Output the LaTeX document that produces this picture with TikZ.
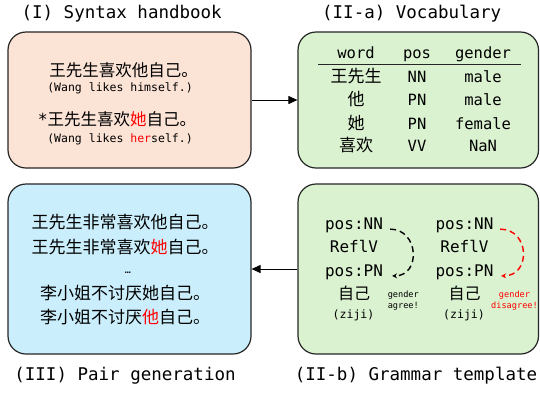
\documentclass[tikz,border=0pt]{standalone}
\usepackage{fontspec}
\setmainfont{DejaVu Sans Mono}
\newfontfamily\monof{DejaVu Sans Mono}
\newfontfamily\cjkf{Noto Sans CJK SC}
\usetikzlibrary{arrows.meta}
\definecolor{peach}{HTML}{FBE3D6}
\definecolor{mint}{HTML}{DAF2D0}
\definecolor{sky}{HTML}{CAEEFB}
\definecolor{edge}{HTML}{262626}
\definecolor{hot}{HTML}{FF0000}
\newcommand{\fsz}[1]{\fontsize{#1}{#1}\selectfont}
\begin{document}
\begin{tikzpicture}[x=1pt,y=-1pt,
  panel/.style={draw=edge, line width=1.2pt, rounded corners=18pt, inner sep=0pt},
  t/.style={inner sep=0pt, text=black},
  ttl/.style={t, font=\fsz{17.5}},
  zh/.style={t, font=\cjkf\fsz{#1}},
  mono/.style={t, font=\monof\fsz{#1}},
  bigarrow/.style={line width=1pt, draw=black, -{Triangle[length=9pt,width=8pt]}},
  arc/.style={line width=1.4pt, dash pattern=on 6pt off 4pt, -{Stealth[length=5pt,width=5pt]}}
]
\useasboundingbox (0,0) rectangle (540,392);
% panels
\node[panel, fill=peach, minimum width=243pt, minimum height=136pt] (P1) at (129.5,100) {};
\node[panel, fill=mint, minimum width=240.5pt, minimum height=136pt] (P2a) at (418.25,100) {};
\node[panel, fill=sky, minimum width=243pt, minimum height=170pt] (P3) at (129.5,269) {};
\node[panel, fill=mint, minimum width=240.5pt, minimum height=170pt] (P2b) at (418.25,269) {};
% titles
\node[ttl] (T1) at (121.7,14) {(I) Syntax handbook};
\node[ttl] (T2a) at (411.7,14) {(II-a) Vocabulary};
\node[ttl] (T3) at (125,376) {(III) Pair generation};
\node[ttl] (T2b) at (416,376) {(II-b) Grammar template};
% arrows
\draw[bigarrow] (P1.east) -- (P2a.west);
\draw[bigarrow] (P2b.west) -- (P3.east);
% panel I
\node[zh=16.5] (s1) at (123.5,70.5) {王先生喜欢他自己。};
\node[mono=11.5] (g1) at (120,88.3) {(Wang likes himself.)};
\node[zh=16.5] (s2) at (117,119) {{\monof *}王先生喜欢\textcolor{hot}{她}自己。};
\node[mono=11.5] (g2) at (120,139) {(Wang likes \textcolor{hot}{her}self.)};
% panel II-a table
\node[mono=15.5, anchor=base] (h1) at (356,58.3) {word};
\node[mono=15.5, anchor=base] (h2) at (417,58.3) {pos};
\node[mono=15.5, anchor=base] (h3) at (483,58.3) {gender};
\coordinate (rl) at (318,64.3);
\coordinate (rr) at (521,64.3);
\draw[line width=1pt, edge] (rl) -- (rr);
\node[zh=17, anchor=base] (w1) at (356,82.7) {王先生};
\node[mono=15.5, anchor=base] (p1) at (417,82.7) {NN};
\node[mono=15.5, anchor=base] (x1) at (483,82.7) {male};
\node[zh=17, anchor=base] (w2) at (356,105) {他};
\node[mono=15.5, anchor=base] (p2) at (417,105) {PN};
\node[mono=15.5, anchor=base] (x2) at (483,105) {male};
\node[zh=17, anchor=base] (w3) at (356,129.3) {她};
\node[mono=15.5, anchor=base] (p3) at (417,129.3) {PN};
\node[mono=15.5, anchor=base] (x3) at (483,129.3) {female};
\node[zh=17, anchor=base] (w4) at (356,151.7) {喜欢};
\node[mono=15.5, anchor=base] (p4) at (417,151.7) {VV};
\node[mono=15.5, anchor=base] (x4) at (483,151.7) {NaN};
% panel III
\node[zh=17] (q1) at (125,222.5) {王先生非常喜欢他自己。};
\node[zh=17] (q2) at (125,247) {王先生非常喜欢\textcolor{hot}{她}自己。};
\node[mono=10] (q3) at (128,273) {…};
\node[zh=17] (q4) at (125,293.3) {李小姐不讨厌她自己。};
\node[zh=17] (q5) at (125,316.7) {李小姐不讨厌\textcolor{hot}{他}自己。};
% panel II-b left template
\node[mono=16, anchor=base] (nA) at (354,229.3) {pos:NN};
\node[mono=16, anchor=base] (rA) at (354,252.7) {ReflV};
\node[mono=16, anchor=base] (pA) at (354,276) {pos:PN};
\node[zh=16] (zA) at (354,293.3) {自己};
\node[mono=11.5] (yA) at (353.5,315.3) {(ziji)};
\node[mono=8.6, align=center, font=\monof\fontsize{8.6}{11}\selectfont] (cA) at (403.3,300.5) {gender\\agree!};
\draw[arc] ([xshift=7pt,yshift=-4pt]nA.east) .. controls +(29,0) and +(29,0) .. ([xshift=9pt,yshift=-4pt]pA.east);
% panel II-b right template
\node[mono=16, anchor=base] (nB) at (464.5,229.3) {pos:NN};
\node[mono=16, anchor=base] (rB) at (464.5,252.7) {ReflV};
\node[mono=16, anchor=base] (pB) at (464.5,276) {pos:PN};
\node[zh=16] (zB) at (464.5,293.3) {自己};
\node[mono=11.5] (yB) at (464,315.3) {(ziji)};
\node[mono=8.6, align=center, font=\monof\fontsize{8.6}{11}\selectfont, text=hot] (cB) at (514.5,300.5) {gender\\disagree!};
\draw[arc, hot] ([xshift=6.5pt,yshift=-4pt]nB.east) .. controls +(30,0) and +(30,0) .. ([xshift=7.5pt,yshift=-4pt]pB.east);
\end{tikzpicture}
\end{document}
